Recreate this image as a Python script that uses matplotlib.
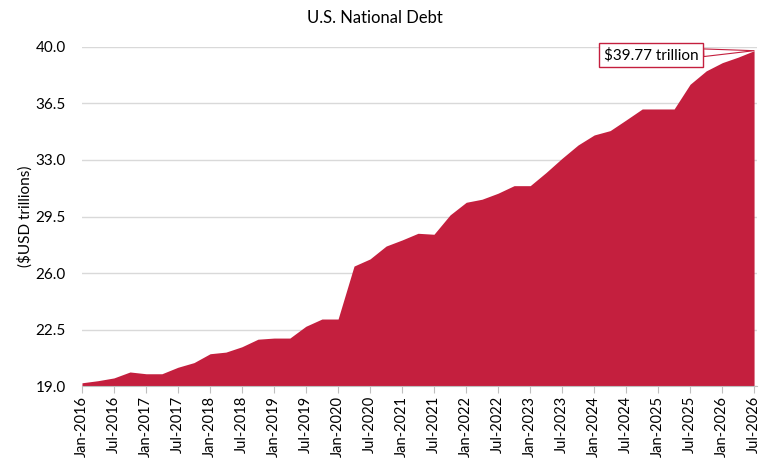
import matplotlib
matplotlib.use("Agg")
import matplotlib.pyplot as plt
import pandas as pd

# quarterly observations, Jan-2016 .. Jul-2026
dates = pd.date_range("2016-01-01", "2026-07-01", freq="QS")
debt = [19.20, 19.33, 19.50, 19.87, 19.76, 19.76, 20.16, 20.45, 21.00, 21.10,
        21.43, 21.90, 21.97, 21.97, 22.70, 23.15, 23.15, 26.43, 26.87, 27.67,
        28.05, 28.46, 28.40, 29.60, 30.38, 30.57, 30.94, 31.41, 31.41, 32.22,
        33.10, 33.93, 34.55, 34.82, 35.48, 36.16, 36.16, 36.16, 37.69, 38.52,
        39.03, 39.37, 39.77]
yticks = [19.0, 22.5, 26.0, 29.5, 33.0, 36.5, 40.0]

red = "#C41F3E"
plt.rcParams["font.family"] = ["Lato", "DejaVu Sans"]

fig = plt.figure(figsize=(7.69, 4.67), dpi=100)
ax = fig.add_axes([0.1066, 0.1734, 0.8774, 0.726])

ax.fill_between(dates, debt, 19.0, color=red, lw=0, zorder=2)

ax.set_ylim(19.0, 40.0)
ax.set_xlim(dates[0], dates[-1] + pd.Timedelta(days=15))
ax.set_yticks(yticks)
ax.set_yticklabels(["%.1f" % v for v in yticks])
ax.grid(axis="y", color="#d9d9d9", lw=1, zorder=0)
ax.tick_params(axis="y", length=0, pad=11.5, labelsize=11)

ticks = pd.date_range("2016-01-01", "2026-07-01", freq="6MS")
ax.set_xticks(ticks)
ax.set_xticklabels([d.strftime("%b-%Y") for d in ticks], rotation=90, fontsize=10.5)
ax.tick_params(axis="x", length=5, color="#bfbfbf", pad=2)

for s in ["top", "right", "left"]:
    ax.spines[s].set_visible(False)
ax.spines["bottom"].set_color("#bfbfbf")

ax.set_ylabel("($USD trillions)", fontsize=11)
ax.yaxis.set_label_coords(-0.073, 0.5)
fig.text(0.488, 0.961, "U.S. National Debt", fontsize=12, ha="center", va="center")

ax.annotate("$%.2f trillion" % debt[-1], xy=(dates[-1], debt[-1]),
            xytext=(-74, -3), textcoords="offset points",
            ha="center", va="center", fontsize=11, zorder=5,
            bbox=dict(boxstyle="square,pad=0.3", fc="white", ec=red, lw=1),
            arrowprops=dict(arrowstyle="wedge,tail_width=0.5", fc="white",
                            ec=red, lw=0.8, shrinkA=0, shrinkB=0))

fig.savefig("out.png", dpi=100)
